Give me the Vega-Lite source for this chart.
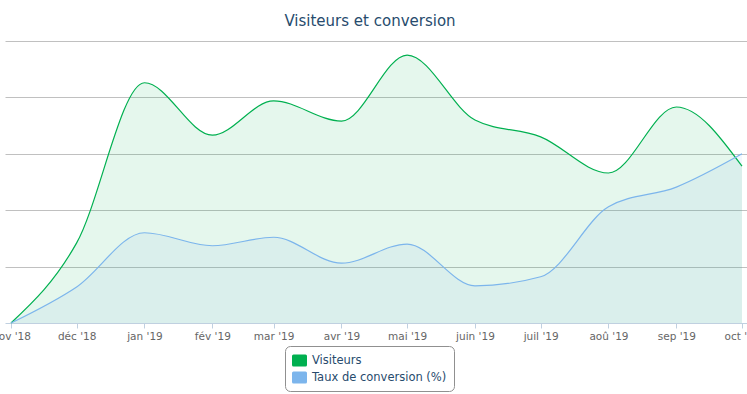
{
  "$schema": "https://vega.github.io/schema/vega-lite/v6.json",
  "autosize": {"type": "none"},
  "width": 742,
  "height": 282,
  "padding": {"left": 5, "top": 41, "right": 0, "bottom": 71},
  "background": "white",
  "title": {
    "text": "Visiteurs et conversion",
    "anchor": "middle",
    "font": "DejaVu Sans",
    "fontSize": 15,
    "fontWeight": "normal",
    "color": "#274b6d",
    "baseline": "alphabetic",
    "offset": 15,
    "dx": -6,
    "dy": 15
  },
  "data": {
    "values": [
      {"mois": "2018-11-01", "serie": "Visiteurs", "valeur": 0},
      {"mois": "2018-12-01", "serie": "Visiteurs", "valeur": 142},
      {"mois": "2019-01-01", "serie": "Visiteurs", "valeur": 426},
      {"mois": "2019-02-01", "serie": "Visiteurs", "valeur": 333},
      {"mois": "2019-03-01", "serie": "Visiteurs", "valeur": 394},
      {"mois": "2019-04-01", "serie": "Visiteurs", "valeur": 358},
      {"mois": "2019-05-01", "serie": "Visiteurs", "valeur": 475},
      {"mois": "2019-06-01", "serie": "Visiteurs", "valeur": 360},
      {"mois": "2019-07-01", "serie": "Visiteurs", "valeur": 330},
      {"mois": "2019-08-01", "serie": "Visiteurs", "valeur": 266},
      {"mois": "2019-09-01", "serie": "Visiteurs", "valeur": 383},
      {"mois": "2019-10-01", "serie": "Visiteurs", "valeur": 278},
      {"mois": "2018-11-01", "serie": "Taux de conversion (%)", "valeur": 0},
      {"mois": "2018-12-01", "serie": "Taux de conversion (%)", "valeur": 64},
      {"mois": "2019-01-01", "serie": "Taux de conversion (%)", "valeur": 160},
      {"mois": "2019-02-01", "serie": "Taux de conversion (%)", "valeur": 137},
      {"mois": "2019-03-01", "serie": "Taux de conversion (%)", "valeur": 152},
      {"mois": "2019-04-01", "serie": "Taux de conversion (%)", "valeur": 106},
      {"mois": "2019-05-01", "serie": "Taux de conversion (%)", "valeur": 140},
      {"mois": "2019-06-01", "serie": "Taux de conversion (%)", "valeur": 66},
      {"mois": "2019-07-01", "serie": "Taux de conversion (%)", "valeur": 82},
      {"mois": "2019-08-01", "serie": "Taux de conversion (%)", "valeur": 206},
      {"mois": "2019-09-01", "serie": "Taux de conversion (%)", "valeur": 241},
      {"mois": "2019-10-01", "serie": "Taux de conversion (%)", "valeur": 300}
    ]
  },
  "mark": {
    "type": "area",
    "interpolate": "monotone",
    "fillOpacity": 0.1,
    "line": {"strokeWidth": 1.2}
  },
  "encoding": {
    "x": {
      "field": "mois",
      "type": "temporal",
      "scale": {
        "type": "utc",
        "domain": [
          {"year": 2018, "month": 10, "date": 29, "hours": 6, "minutes": 15, "utc": true},
          {"year": 2019, "month": 10, "date": 3, "hours": 7, "utc": true}
        ]
      },
      "axis": {
        "title": null,
        "grid": false,
        "values": [
          {"year": 2018, "month": 11, "date": 1, "utc": true},
          {"year": 2018, "month": 12, "date": 1, "utc": true},
          {"year": 2019, "month": 1, "date": 1, "utc": true},
          {"year": 2019, "month": 2, "date": 1, "utc": true},
          {"year": 2019, "month": 3, "date": 1, "utc": true},
          {"year": 2019, "month": 4, "date": 1, "utc": true},
          {"year": 2019, "month": 5, "date": 1, "utc": true},
          {"year": 2019, "month": 6, "date": 1, "utc": true},
          {"year": 2019, "month": 7, "date": 1, "utc": true},
          {"year": 2019, "month": 8, "date": 1, "utc": true},
          {"year": 2019, "month": 9, "date": 1, "utc": true},
          {"year": 2019, "month": 10, "date": 1, "utc": true}
        ],
        "labelExpr": "['jan','fév','mar','avr','mai','juin','juil','aoû','sep','oct','nov','déc'][utcmonth(datum.value)] + \" '\" + utcFormat(datum.value, '%y')",
        "labelOverlap": false,
        "labelBound": false,
        "labelFlush": false,
        "labelFont": "DejaVu Sans",
        "labelFontSize": 10.5,
        "labelColor": "#666666",
        "labelPadding": 3,
        "domainColor": "#C0D0E0",
        "domainWidth": 1,
        "tickColor": "#C0D0E0",
        "tickSize": 5,
        "tickWidth": 1
      }
    },
    "y": {
      "field": "valeur",
      "type": "quantitative",
      "stack": null,
      "scale": {"domain": [0, 500], "nice": false},
      "axis": {
        "title": null,
        "labels": false,
        "ticks": false,
        "domain": false,
        "values": [100, 200, 300, 400, 500],
        "gridColor": "#C0C0C0",
        "gridWidth": 1
      }
    },
    "color": {
      "field": "serie",
      "type": "nominal",
      "scale": {
        "domain": ["Visiteurs", "Taux de conversion (%)"],
        "range": ["#00b050", "#7cb5ec"]
      },
      "legend": {
        "title": null,
        "orient": "none",
        "legendX": 280,
        "legendY": 305,
        "direction": "vertical",
        "strokeColor": "#909090",
        "fillColor": "white",
        "cornerRadius": 5,
        "padding": 7,
        "rowPadding": 3,
        "labelFont": "DejaVu Sans",
        "labelFontSize": 11.5,
        "labelColor": "#274b6d",
        "labelOffset": 5,
        "symbolType": "M-0.8,-0.8 L0.8,-0.8 Q1,-0.8 1,-0.6 L1,0.6 Q1,0.8 0.8,0.8 L-0.8,0.8 Q-1,0.8 -1,0.6 L-1,-0.6 Q-1,-0.8 -0.8,-0.8 Z",
        "symbolSize": 225,
        "symbolOpacity": 1,
        "symbolStrokeWidth": 0,
        "encode": {
          "symbols": {"update": {"fillOpacity": {"value": 1}, "strokeWidth": {"value": 0}}}
        }
      }
    }
  },
  "config": {
    "view": {"stroke": null}
  }
}
